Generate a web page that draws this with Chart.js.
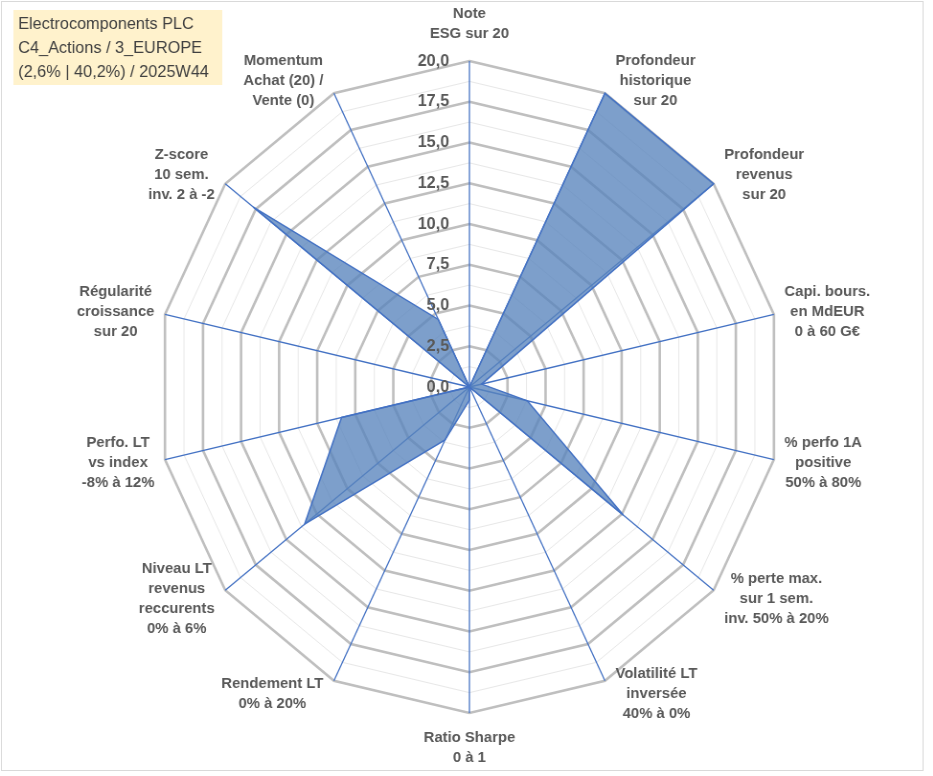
<!DOCTYPE html>
<html><head><meta charset="utf-8">
<script src="https://cdn.jsdelivr.net/npm/chart.js@4.4.0/dist/chart.umd.min.js"></script>
<style>
html,body{margin:0;padding:0;background:#fff;overflow:hidden;width:933px;height:776px;}
#wrap{position:absolute;left:0;top:0;width:974px;height:776px;transform:scaleX(0.958);transform-origin:0 0;}
</style></head><body>
<div id="wrap"><canvas id="c"></canvas></div>
<script>
const categories = [
  ["Note", "ESG sur 20"],
  ["Profondeur", "historique", "sur 20"],
  ["Profondeur", "revenus", "sur 20"],
  ["Capi. bours.", "en MdEUR", "0 à 60 G€"],
  ["% perfo 1A", "positive", "50% à 80%"],
  ["% perte max.", "sur 1 sem.", "inv. 50% à 20%"],
  ["Volatilité LT", "inversée", "40% à 0%"],
  ["Ratio Sharpe", "0 à 1"],
  ["Rendement LT", "0% à 20%"],
  ["Niveau LT", "revenus", "reccurents", "0% à 6%"],
  ["Perfo. LT", "vs index", "-8% à 12%"],
  ["Régularité", "croissance", "sur 20"],
  ["Z-score", "10 sem.", "inv. 2 à -2"],
  ["Momentum", "Achat (20) /", "Vente (0)"]
];
const scores = [0, 20, 20, 0.8, 3.8, 12.6, 0, 0.8, 3.6, 13.5, 8.4, 0, 17.7, 4.6];
const tickValues = [0, 2.5, 5, 7.5, 10, 12.5, 15, 17.5, 20];
const tickLabels = ["0,0", "2,5", "5,0", "7,5", "10,0", "12,5", "15,0", "17,5", "20,0"];
const titleLines = ["Electrocomponents PLC", "C4_Actions / 3_EUROPE", "(2,6% | 40,2%) / 2025W44"];

const isMajor = v => Math.abs(v / 2.5 - Math.round(v / 2.5)) < 1e-6;

const overlay = {
  id: 'overlay',
  beforeDraw(chart) {
    const ctx = chart.ctx;
    ctx.save();
    ctx.fillStyle = '#ffffff';
    ctx.fillRect(0, 0, chart.width, chart.height);
    ctx.strokeStyle = '#d9d9d9';
    ctx.lineWidth = 1;
    ctx.strokeRect(1.5, 1.5, chart.width - 12, chart.height - 7);
    ctx.fillStyle = '#FFF2CC';
    ctx.fillRect(14, 10, 218, 75);
    ctx.fillStyle = '#404040';
    ctx.font = '17px "Liberation Sans", Arial, sans-serif';
    ctx.textAlign = 'left';
    ctx.textBaseline = 'middle';
    titleLines.forEach((t, k) => ctx.fillText(t, 19, 24.5 + k * 23.7));
    ctx.restore();
  },
  afterDraw(chart) {
    const ctx = chart.ctx;
    const scale = chart.scales.r;
    const n = categories.length;
    ctx.save();
    ctx.fillStyle = '#595959';
    ctx.textAlign = 'center';
    ctx.textBaseline = 'middle';
    ctx.font = 'bold 15.5px "Liberation Sans", Arial, sans-serif';
    const lh = 20;
    categories.forEach((lines, i) => {
      const a = 2 * Math.PI * i / n;
      const p = scale.getPointPosition(i, scale.drawingArea);
      const s = Math.sin(a), c = Math.cos(a);
      const h = lines.length * lh;
      const w = Math.max(...lines.map(l => ctx.measureText(l).width));
      let cx, cy;
      if (Math.abs(s) < 1e-6) {
        cx = p.x;
        cy = c > 0 ? p.y - (h / 2 + 17) : p.y + (h / 2 + 15);
      } else {
        cx = p.x + Math.sign(s) * (w / 2 + 11);
        cy = p.y - 14 * c;
      }
      lines.forEach((l, k) => ctx.fillText(l, cx, cy - h / 2 + lh / 2 + k * lh));
    });
    ctx.font = 'bold 17px "Liberation Sans", Arial, sans-serif';
    ctx.textAlign = 'right';
    tickValues.forEach((v, k) => {
      const y = scale.yCenter - scale.getDistanceFromCenterForValue(v);
      ctx.fillText(tickLabels[k], scale.xCenter - 21, y);
    });
    ctx.restore();
  }
};

new Chart(document.getElementById('c'), {
  type: 'radar',
  data: {
    labels: categories,
    datasets: [{
      data: scores,
      backgroundColor: 'rgba(88,132,188,0.78)',
      borderColor: '#4472C4',
      borderWidth: 1.5,
      pointRadius: 0,
      pointHoverRadius: 0,
      fill: true
    }]
  },
  options: {
    responsive: true,
    maintainAspectRatio: false,
    animation: false,
    layout: { padding: { left: 100, right: 94, top: 61, bottom: 63 } },
    plugins: { legend: { display: false }, tooltip: { enabled: false } },
    scales: {
      r: {
        min: 0,
        max: 20,
        ticks: { stepSize: 1.25, display: false },
        pointLabels: { display: false },
        grid: {
          circular: false,
          color: ctx => isMajor(ctx.tick.value) ? '#bfbfbf' : '#e8e8e8',
          lineWidth: ctx => isMajor(ctx.tick.value) ? 2.6 : 1
        },
        angleLines: { color: '#4472C4', lineWidth: 1.3 }
      }
    }
  },
  plugins: [overlay]
});
</script>
</body></html>
